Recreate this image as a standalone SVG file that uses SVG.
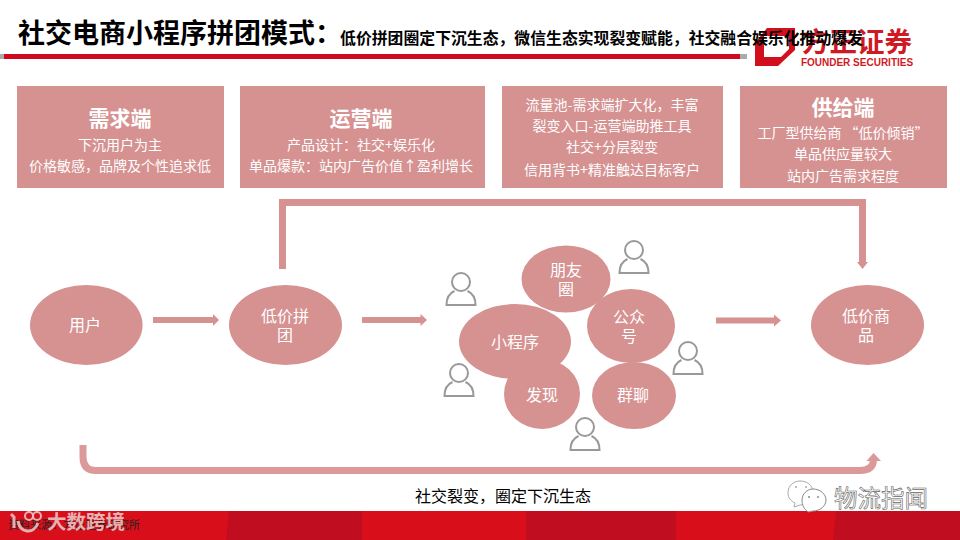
<svg xmlns="http://www.w3.org/2000/svg" width="960" height="540" viewBox="0 0 960 540">
<style>
text{font-family:"Noto Sans CJK SC","Liberation Sans",sans-serif;text-anchor:middle}
.box,.el{fill:#d69191}
.t{fill:#fff;font-size:14px}
.e{fill:#fff;font-size:16px}
.h{fill:#fff;font-size:21px;font-weight:700}
.ln{fill:none;stroke:#d69191;stroke-width:7}
.ar{fill:none;stroke:#d69191;stroke-width:6}
.ah{fill:#d69191}
.p{fill:none;stroke:#999;stroke-width:2}
.wm{fill:none;stroke:#e3c3c3;stroke-width:3;opacity:.9}
</style>
<rect width="960" height="540" fill="#fff"/>
<g id="header">
<rect x="0" y="54" width="747" height="5" fill="#cf0a20"/>
<rect x="0" y="54" width="4" height="5" fill="#aaa"/>
<rect x="740" y="54" width="7" height="5" fill="#aaa"/>
<path fill-rule="evenodd" d="M767 28H795V50L778 66H755V43ZM764 36V57H781L789 49V36Z" fill="#d2101d"/>
<text x="857" y="52" style="font-size:27.500px;font-weight:700;fill:#cf1a24">方正证券</text>
<text x="857" y="66" style="font-size:10px;font-weight:700;fill:#cf1a24;font-family:'Liberation Sans',sans-serif">FOUNDER SECURITIES</text>
<text x="18" y="43" style="font-size:27px;font-weight:700;fill:#000;text-anchor:start">社交电商小程序拼团模式：</text>
<text x="601.500" y="44" style="font-size:15.850px;font-weight:700;fill:#000">低价拼团圈定下沉生态，微信生态实现裂变赋能，社交融合娱乐化推动爆发</text>
</g>
<g id="box-demand"><rect class="box" x="17" y="86" width="207" height="102"/>
<text class="h" x="120" y="126">需求端</text><text class="t" x="120" y="150">下沉用户为主</text><text class="t" x="120" y="171">价格敏感，品牌及个性追求低</text></g>
<g id="box-ops"><rect class="box" x="240" y="86" width="245" height="102"/>
<text class="h" x="361" y="126">运营端</text><text class="t" x="361" y="150">产品设计：社交+娱乐化</text><text class="t" x="361" y="171">单品爆款：站内广告价值↑盈利增长</text></g>
<g id="box-traffic"><rect class="box" x="502" y="86" width="221" height="102"/>
<text class="t" x="612" y="110">流量池-需求端扩大化，丰富</text><text class="t" x="612" y="131">裂变入口-运营端助推工具</text><text class="t" x="612" y="152">社交+分层裂变</text><text class="t" x="612" y="175">信用背书+精准触达目标客户</text></g>
<g id="box-supply"><rect class="box" x="740" y="86" width="207" height="102"/>
<text class="h" x="843" y="115">供给端</text><text class="t" x="843" y="138">工厂型供给商 “低价倾销”</text><text class="t" x="843" y="159">单品供应量较大</text><text class="t" x="843" y="181">站内广告需求程度</text></g>
<g id="connectors">
<path class="ln" d="M282.500 269V202.500H862.500V263"/>
<path class="ah" d="M857 262H868L862.500 269Z"/>
<path class="ar" d="M153 320H214"/><path class="ah" d="M213 314L219 320L213 326Z"/>
<path class="ar" d="M362 320H421"/><path class="ah" d="M420.500 314L427 320L420.500 326Z"/>
<path class="ar" d="M716 320.500H775"/><path class="ah" d="M774 314.500L781 320.500L774 326.500Z"/>
<path fill="none" stroke="#dc9999" stroke-width="7" d="M83 445V457Q83 470.500 96 470.500H860Q873.500 470.500 873.500 459"/>
<path fill="#dc9999" d="M866.500 461L873.500 453L881 461Z"/>
</g>
<g id="user"><ellipse class="el" cx="86.300" cy="325" rx="56.300" ry="40"/><text class="e" x="85" y="331">用户</text></g>
<g id="group"><ellipse class="el" cx="285.500" cy="325" rx="56.500" ry="40"/><text class="e" x="285" y="322">低价拼</text><text class="e" x="285" y="341">团</text></g>
<g id="goods"><ellipse class="el" cx="867.500" cy="325" rx="56.500" ry="40"/><text class="e" x="866" y="322">低价商</text><text class="e" x="866" y="341">品</text></g>
<g id="moments"><ellipse class="el" cx="566" cy="279" rx="44.500" ry="33.500"/><text class="e" x="566" y="276">朋友</text><text class="e" x="566" y="295">圈</text></g>
<g id="official"><ellipse class="el" cx="631" cy="326" rx="44" ry="37"/><text class="e" x="629" y="323">公众</text><text class="e" x="629" y="342">号</text></g>
<g id="chat"><ellipse class="el" cx="634" cy="395.500" rx="42" ry="33.500"/><text class="e" x="633" y="401">群聊</text></g>
<g id="miniapp"><ellipse class="el" cx="515" cy="341.500" rx="56" ry="37.500"/><text class="e" x="515" y="348">小程序</text></g>
<g id="discover"><ellipse class="el" cx="542" cy="394" rx="38" ry="35"/><text class="e" x="542" y="401">发现</text></g>
<defs><g id="person"><circle cx="0" cy="-23" r="9" class="p"/><path class="p" d="M-6.500 -14C-11 -12 -14.500 -7 -14.500 0H14.500C14.500 -7 11 -12 6.500 -14"/></g></defs>
<g id="persons">
<use href="#person" x="461" y="305"/><use href="#person" x="634" y="273"/><use href="#person" x="688" y="374"/><use href="#person" x="459" y="396"/><use href="#person" x="585" y="450"/>
</g>
<text id="caption" x="503" y="502" style="font-size:16px;fill:#000">社交裂变，圈定下沉生态</text>
<g id="footer">
<rect y="511" width="960" height="29" fill="#d80f1a"/>
<path d="M229 511H362V540H226Z" fill="#c00d20"/>
<path d="M526 511H676V540H526Z" fill="#c00d20"/>
<path d="M836 511H960V540H833Z" fill="#c00d20"/>
<text x="74" y="529" style="font-size:11px;fill:#222">资料来源：方正证券研究所</text>
</g>
<g id="watermark">
<text x="86" y="529" style="font-size:19.500px;font-weight:700;fill:#e8c4c4;opacity:.9">大数跨境</text>
<path class="wm" d="M11 514L14 517V528"/>
<path class="wm" d="M18 521C20 533 33 535 38 523"/>
<circle class="wm" cx="29" cy="516" r="4" style="stroke-width:2"/>
<circle class="wm" cx="37" cy="516" r="4" style="stroke-width:2"/>
<path d="M788 493C788 485 794 481 800 481C807 481 813 485 813 493C813 501 807 505 800 505L794 507L795 503C791 501 788 498 788 493Z" fill="#fff" stroke="#aaa"/>
<path d="M802 500C802 494 807 489 813 489C820 489 826 494 826 500C826 506 820 511 813 511L808 512C804 509 802 505 802 500Z" fill="#fff" stroke="#888"/>
<circle cx="796" cy="487" r="1" fill="#aaa"/><circle cx="806" cy="487" r="1" fill="#aaa"/>
<circle cx="809" cy="497" r="1" fill="#888"/><circle cx="818" cy="497" r="1" fill="#888"/>
<text x="881" y="507" style="font-size:23.500px;fill:#fff;stroke:#666;stroke-width:.6">物流指闻</text>
</g>
</svg>
